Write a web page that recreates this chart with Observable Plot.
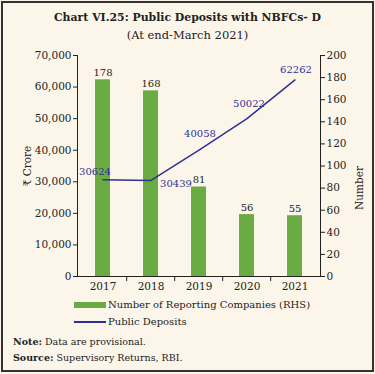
<!DOCTYPE html>
<html><head><meta charset="utf-8">
<script src="https://cdn.jsdelivr.net/npm/d3@7"></script>
<script src="https://cdn.jsdelivr.net/npm/@observablehq/plot@0.6"></script>
<style>
body{margin:0;background:#fff;}
#wrap{position:relative;width:375px;height:374px;background:#fcf6ea;font-family:"DejaVu Serif",serif;color:#222;overflow:hidden}
#border{position:absolute;left:1px;top:1px;width:373px;height:371px;box-sizing:border-box;border:2px solid #333;pointer-events:none}
.abs{position:absolute;white-space:nowrap}
#title{left:0;width:375px;top:11px;text-align:center;font-weight:bold;font-size:10.9px;line-height:14px}
#sub{left:0;width:375px;top:28px;text-align:center;font-size:11.5px;line-height:14px}
#chart{left:0;top:44px}
.leg{font-size:10px;line-height:12px}
.note{font-size:9.5px;line-height:12px}
</style></head>
<body>
<div id="wrap">
  <div class="abs" id="title">Chart VI.25: Public Deposits with NBFCs- D</div>
  <div class="abs" id="sub">(At end-March 2021)</div>
  <div class="abs" id="chart"></div>
  <div class="abs" style="left:74px;top:302px;width:32px;height:6px;background:#6aab44"></div>
  <div class="abs leg" style="left:108px;top:299px">Number of Reporting Companies (RHS)</div>
  <div class="abs" style="left:74px;top:321px;width:32px;height:1.5px;background:#2e3192"></div>
  <div class="abs leg" style="left:108px;top:316px">Public Deposits</div>
  <div class="abs note" style="left:13px;top:336px"><b>Note:</b> Data are provisional.</div>
  <div class="abs note" style="left:13px;top:352px"><b>Source:</b> Supervisory Returns, RBI.</div>
  <div id="border"></div>
</div>
<script>
const years = ["2017", "2018", "2019", "2020", "2021"];
const companies = [178, 168, 81, 56, 55];
const deposits = [30624, 30439, 40058, 50022, 62262];
const leftTicks = [0, 10000, 20000, 30000, 40000, 50000, 60000, 70000];
const rightTicks = [0, 20, 40, 60, 80, 100, 120, 140, 160, 180, 200];

const ratio = 70000 / 200;
const rows = years.map((year, i) => ({year, companies: companies[i], deposits: deposits[i], i}));
const navy = "#2e3192";
const green = "#6aab44";
const step = (375 - 77 - 55) / years.length;
const fmt = d3.format(",");

const depLabel = (idx, dx, dy) => Plot.text(rows.filter(d => d.i === idx), {
  x: "year", y: "deposits", text: d => String(d.deposits), fill: navy, dx, dy, fontSize: 10
});

const chart = Plot.plot({
  width: 375, height: 254,
  marginTop: 11, marginBottom: 22, marginLeft: 77, marginRight: 55,
  style: {fontFamily: "DejaVu Serif, serif", fontSize: "10px", background: "transparent", color: "#222"},
  x: {domain: years, paddingInner: 0.69, paddingOuter: 0.345, axis: null},
  y: {domain: [0, 70000], axis: null},
  marks: [
    Plot.barY(rows, {x: "year", y: d => d.companies * ratio, fill: green}),
    Plot.text(rows, {x: "year", y: d => d.companies * ratio, text: d => String(d.companies), lineAnchor: "bottom", dy: -4, fill: "#222", fontSize: 10}),
    Plot.line(rows, {x: "year", y: "deposits", stroke: navy, strokeWidth: 1.5}),
    depLabel(0, -8, -8),
    depLabel(1, 25, 3),
    depLabel(2, 1, -16),
    depLabel(3, 2, -15),
    depLabel(4, 1, -10),
    Plot.axisY(leftTicks, {anchor: "left", tickSize: 4, tickPadding: 2, tickFormat: fmt, label: "₹ Crore", labelAnchor: "center", labelOffset: 54, labelArrow: "none", fontSize: 10.5}),
    Plot.axisY(rightTicks, {anchor: "right", y: d => d * ratio, tickFormat: d => String(d), tickSize: 4, tickPadding: 2, label: null, fontSize: 10.5}),
    Plot.text(["Number"], {frameAnchor: "right", rotate: -90, dx: 39, fontSize: 10.5, fill: "#222"}),
    Plot.axisX({tickSize: 0, tickPadding: 6, fontSize: 10.5, label: null}),
    Plot.axisX(years.slice(1), {tickSize: 5, tickFormat: () => "", dx: -step / 2, label: null}),
    Plot.frame({anchor: "left", stroke: "#222"}),
    Plot.frame({anchor: "right", stroke: "#222"}),
    Plot.ruleY([0], {stroke: "#222"})
  ]
});
document.getElementById("chart").appendChild(chart);
</script>
</body></html>
